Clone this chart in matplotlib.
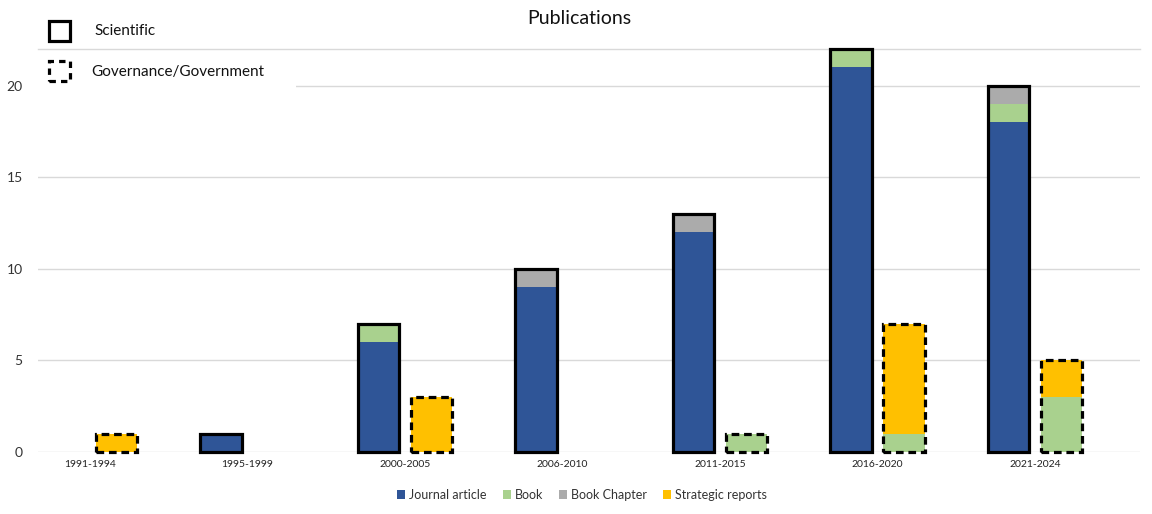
import matplotlib
matplotlib.use("Agg")
import matplotlib.pyplot as plt
from matplotlib.patches import Rectangle, Patch
import numpy as np

plt.rcParams['font.family'] = ['Lato', 'DejaVu Sans']

categories = ["1991-1994", "1995-1999", "2000-2005", "2006-2010", "2011-2015", "2016-2020", "2021-2024"]
series = ["Journal article", "Book", "Book Chapter", "Strategic reports"]
colors = ["#2F5597", "#A9D18E", "#ABABAB", "#FFC000"]

# Scientific publications
sci_journal = [0, 1, 6, 9, 12, 21, 18]
sci_book = [0, 0, 1, 0, 0, 1, 1]
sci_chapter = [0, 0, 0, 1, 1, 0, 1]
sci_strategic = [0, 0, 0, 0, 0, 0, 0]

# Governance / Government publications
gov_journal = [0, 0, 0, 0, 0, 0, 0]
gov_book = [0, 0, 0, 0, 1, 1, 3]
gov_chapter = [0, 0, 0, 0, 0, 0, 0]
gov_strategic = [1, 0, 3, 0, 0, 6, 2]

y_ticks = [0, 5, 10, 15, 20]

fig = plt.figure(figsize=(11.52, 5.14), dpi=100)
ax = fig.add_axes([38/1152, 1-452/514, (1140-38)/1152, (452-49)/514])

x = np.arange(len(categories))
width = 0.265
off = 0.168

def draw_group(xpos, stacks, ls):
    bottom = np.zeros(len(categories))
    for vals, c in zip(stacks, colors):
        v = np.array(vals, dtype=float)
        ax.bar(xpos, v, width, bottom=bottom, color=c, edgecolor='none', zorder=2)
        bottom += v
    for xi, tot in zip(xpos, bottom):
        if tot > 0:
            ax.add_patch(Rectangle((xi - width/2, 0), width, tot, fill=False,
                                   edgecolor='black', linewidth=2.3,
                                   linestyle=ls, zorder=3, clip_on=False))

draw_group(x - off, [sci_journal, sci_book, sci_chapter, sci_strategic], '-')
draw_group(x + off, [gov_journal, gov_book, gov_chapter, gov_strategic], (0, (2.4, 1.5)))

ax.set_xlim(-0.33, 6.667)
ax.set_ylim(0, 22)
ax.set_yticks(y_ticks)
ax.set_yticklabels([str(t) for t in y_ticks], fontsize=10, color='#333333')
ax.set_xticks(x)
ax.set_xticklabels(categories, fontsize=7.5, color='#222222')
ax.tick_params(axis='x', length=0, pad=6)
ax.tick_params(axis='y', length=0, pad=11)
ax.grid(axis='y', color='#D9D9D9', linewidth=1)
ax.set_axisbelow(True)
for s in ['left', 'right', 'bottom']:
    ax.spines[s].set_visible(False)
ax.spines['top'].set_color('#D9D9D9')
ax.spines['top'].set_linewidth(1)

# white boxes of the custom legend (cover gridlines)
ax.add_patch(Rectangle((-0.33, 21.5), (200-38)/157.5, 2, transform=ax.transData,
                       facecolor='white', edgecolor='none', zorder=1.5, clip_on=False))
ax.add_patch(Rectangle((-0.33, 19.5), (296-38)/157.5, 2.1, transform=ax.transData,
                       facecolor='white', edgecolor='none', zorder=1.5, clip_on=False))

W, H = 1152, 514
def fx(px): return px / W
def fy(py): return 1 - py / H

fig.patches.append(Rectangle((fx(49), fy(41)), 21/W, 20/H, transform=fig.transFigure,
                             fill=False, edgecolor='black', linewidth=2.3, zorder=5))
fig.patches.append(Rectangle((fx(49), fy(81)), 21/W, 20/H, transform=fig.transFigure,
                             fill=False, edgecolor='black', linewidth=2.3,
                             linestyle=(0, (2.0, 1.6)), zorder=5))
fig.text(fx(94), fy(31), "Scientific", fontsize=11, va='center', ha='left', color='#111111')
fig.text(fx(91), fy(72), "Governance/Government", fontsize=11, va='center', ha='left', color='#111111')

fig.text(fx(579), fy(18), "Publications", fontsize=14, ha='center', va='center', color='#111111')

handles = [Patch(facecolor=c, edgecolor='none') for c in colors]
fig.legend(handles, series, loc='center', bbox_to_anchor=(fx(582), fy(495)), ncol=4,
           frameon=False, fontsize=9, handlelength=0.65, handleheight=0.65,
           handletextpad=0.3, columnspacing=1.3, labelcolor='#333333')

fig.savefig("out.png", dpi=100)
